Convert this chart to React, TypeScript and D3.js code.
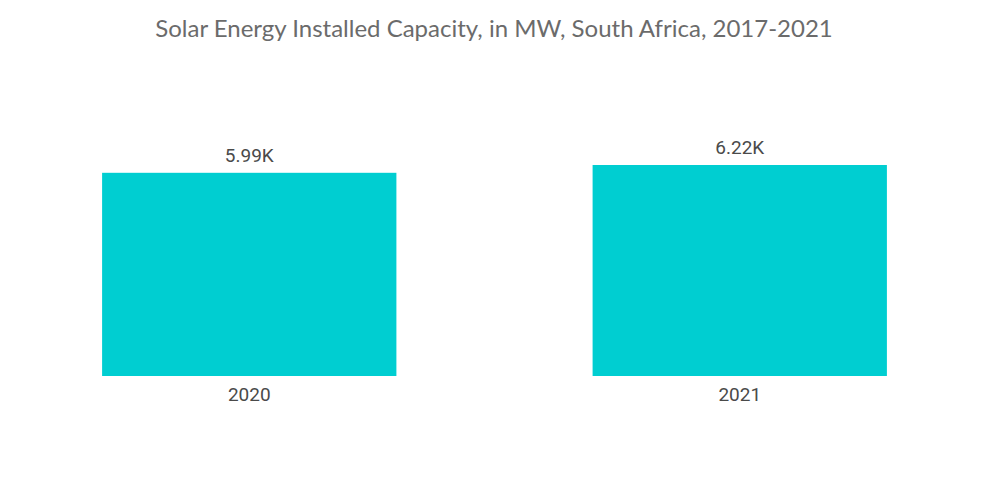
import React, { useEffect, useRef } from 'react';
import * as d3 from 'd3';

const years = ['2020', '2021'];
const capacity = [5.99, 6.22]; // thousand MW
const labels = ['5.99K', '6.22K'];

const App: React.FC = () => {
  const svgRef = useRef<SVGSVGElement>(null);

  useEffect(() => {
    if (!svgRef.current) return;

    const width = 1000;
    const height = 504;

    const svg = d3.select(svgRef.current)
      .attr('width', width)
      .attr('height', height)
      .attr('viewBox', [0, 0, width, height]);

    svg.selectAll('*').remove();

    const x = d3.scaleBand<string>()
      .domain(years)
      .range([4, 985])
      .paddingInner(0.4)
      .paddingOuter(0.2);

    const y = d3.scaleLinear()
      .domain([0, 6.22])
      .range([376, 165]);

    // Title
    svg.append('text')
      .attr('x', 494)
      .attr('y', 37)
      .attr('text-anchor', 'middle')
      .style('font-family', 'Lato, sans-serif')
      .style('font-size', '24px')
      .style('fill', '#6b6b6b')
      .text('Solar Energy Installed Capacity, in MW, South Africa, 2017-2021');

    const rows = years.map((yr, i) => ({ yr, v: capacity[i], label: labels[i] }));

    // Bars
    svg.selectAll('.bar')
      .data(rows)
      .enter().append('rect')
      .attr('class', 'bar')
      .attr('x', d => x(d.yr)!)
      .attr('y', d => y(d.v))
      .attr('width', x.bandwidth())
      .attr('height', d => y(0) - y(d.v))
      .attr('fill', '#00CED1');

    // Value labels
    svg.selectAll('.value')
      .data(rows)
      .enter().append('text')
      .attr('class', 'value')
      .attr('x', d => x(d.yr)! + x.bandwidth() / 2)
      .attr('y', d => y(d.v) - 11)
      .attr('text-anchor', 'middle')
      .style('font-family', 'Roboto, sans-serif')
      .style('font-size', '19px')
      .style('fill', '#4a4a4a')
      .text(d => d.label);

    // Category axis
    const axis = svg.append('g')
      .attr('transform', `translate(0,${y(0)})`)
      .call(d3.axisBottom(x).tickSize(0).tickPadding(12));
    axis.select('.domain').remove();
    axis.selectAll('text')
      .attr('dy', '0.71em')
      .style('font-family', 'Roboto, sans-serif')
      .style('font-size', '19px')
      .style('fill', '#4a4a4a');
  }, []);

  return (
    <div style={{ position: 'fixed', left: 0, top: 0, width: 1000, height: 504, background: '#fff' }}>
      <svg ref={svgRef} style={{ display: 'block' }}></svg>
    </div>
  );
};

export default App;
